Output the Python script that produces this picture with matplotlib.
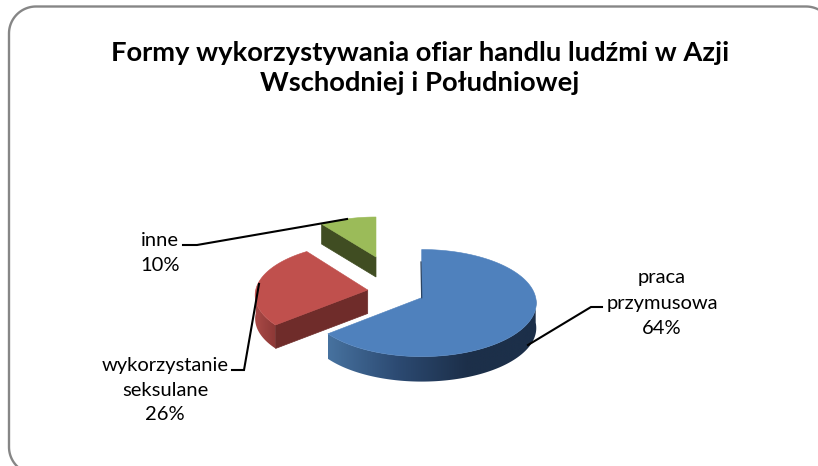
import numpy as np
import matplotlib
matplotlib.use('Agg')
import matplotlib.pyplot as plt
from matplotlib.colors import LinearSegmentedColormap
from matplotlib.patches import Polygon

# ── Datos ─────────────────────────────────────────────────────────
TITULO    = 'Formy wykorzystywania ofiar handlu ludźmi w Azji\nWschodniej i Południowej'
ETIQUETAS = ['praca\nprzymusowa', 'wykorzystanie\nseksulane', 'inne']
VALORES   = [64, 26, 10]

# ── Estilo ────────────────────────────────────────────────────────
COLOR_TOP  = ['#4f81bd', '#c0504d', '#9bbb59']
COLOR_CUT  = [None, '#6f2c2a', '#404d22']
GRAD_LADO  = [['#47729f', '#2c4a72', '#1c2f49', '#1c2f49'], ['#aa4a47', '#8c3836'], None]
APEX       = [(421.7, 297.7), (367.7, 290.0), (376.0, 257.0)]
RADIOS     = [(114, 53), (112, 51.4), (100, 44)]
ALTO       = [25, 23.5, 20]
K          = 0.10    # perspectiva: el fondo se ve más chico

plt.rcParams['font.family'] = ['Lato', 'DejaVu Sans']

fig = plt.figure(figsize=(8.18, 4.66), dpi=100)
ax = fig.add_axes([0, 0, 1, 1])
ax.set_xlim(0, 818)
ax.set_ylim(466, 0)
ax.axis('off')

# marco redondeado (se corta a la derecha y abajo)
R = 27
t = np.linspace(0, np.pi / 2, 30)
marco_x = np.r_[9 + R - R * np.cos(t[::-1]), 9 + R - R * np.cos(t), 833 - R + R * np.sin(t)]
marco_y = np.r_[474 - R + R * np.sin(t[::-1]), 6.5 + R - R * np.sin(t), 6.5 + R - R * np.cos(t)]
ax.plot(marco_x, marco_y, color='#868686', lw=1.7, zorder=1)


def proyectar(i, ang, dz=0.0):
    s, c = np.sin(ang), np.cos(ang)
    w = 1 + K * c
    a, b = RADIOS[i]
    return APEX[i][0] + a * s / w, APEX[i][1] - b * c / w + dz


limites = np.cumsum([0] + VALORES) / sum(VALORES) * 2 * np.pi

for i in [2, 1, 0]:
    a0, a1 = limites[i], limites[i + 1]
    h = ALTO[i]

    # costado exterior visible, con degradado horizontal
    lado0, lado1 = max(a0, np.pi / 2), min(a1, 3 * np.pi / 2)
    if lado1 > lado0 and GRAD_LADO[i] is not None:
        angs = np.linspace(lado0, lado1, 150)
        xs, ys = proyectar(i, angs)
        poly = Polygon(np.c_[np.r_[xs, xs[::-1]], np.r_[ys, ys[::-1] + h]],
                       closed=True, transform=ax.transData, fc='none', ec='none')
        ax.add_patch(poly)
        colores = GRAD_LADO[i] if i == 1 else GRAD_LADO[i][::-1]
        cmap = LinearSegmentedColormap.from_list('lado', GRAD_LADO[i])
        im = ax.imshow(np.linspace(0, 1, 256).reshape(1, -1), cmap=cmap, aspect='auto',
                       extent=[xs.min(), xs.max(), ys.max() + h, ys.min()], zorder=2)
        im.set_clip_path(poly)

    # cara de corte visible
    if COLOR_CUT[i] is not None:
        xc, yc = proyectar(i, a0)
        ax.fill([APEX[i][0], xc, xc, APEX[i][0]],
                [APEX[i][1], yc, yc + h, APEX[i][1] + h],
                color=COLOR_CUT[i], lw=0.5, zorder=3)

    # tapa
    angs = np.linspace(a0, a1, 120)
    xs, ys = proyectar(i, angs)
    ax.fill(np.r_[APEX[i][0], xs], np.r_[APEX[i][1], ys], color=COLOR_TOP[i], lw=0.4, zorder=4)

ax.set_xlim(0, 818)
ax.set_ylim(466, 0)

# canto oscuro del corte azul
ax.plot([421.0, 421.7], [262, 297.7], color='#2b4463', lw=0.9, zorder=5)

# ── Líneas guía ───────────────────────────────────────────────────
guias = [([602, 591, 528], [307, 307, 345]),
         ([232, 244, 259], [370, 370, 284]),
         ([183, 197, 347], [245, 245, 219])]
for gx, gy in guias:
    ax.plot(gx, gy, color='black', lw=1.5, zorder=6, solid_joinstyle='miter')

# ── Textos ────────────────────────────────────────────────────────
ax.text(420, 68, TITULO, ha='center', va='center', fontsize=19.7, fontweight='bold',
        color='black', linespacing=1.26)

pos_etiquetas = [(662, 303), (165, 390), (160, 253)]
interlineado  = [1.64, 1.5, 1.55]
for (tx, ty), et, v, ls in zip(pos_etiquetas, ETIQUETAS, VALORES, interlineado):
    ax.text(tx, ty, f'{et}\n{v}%', ha='center', va='center', fontsize=14.5, color='black',
            linespacing=ls, zorder=7)

fig.savefig('out.png', dpi=100)
